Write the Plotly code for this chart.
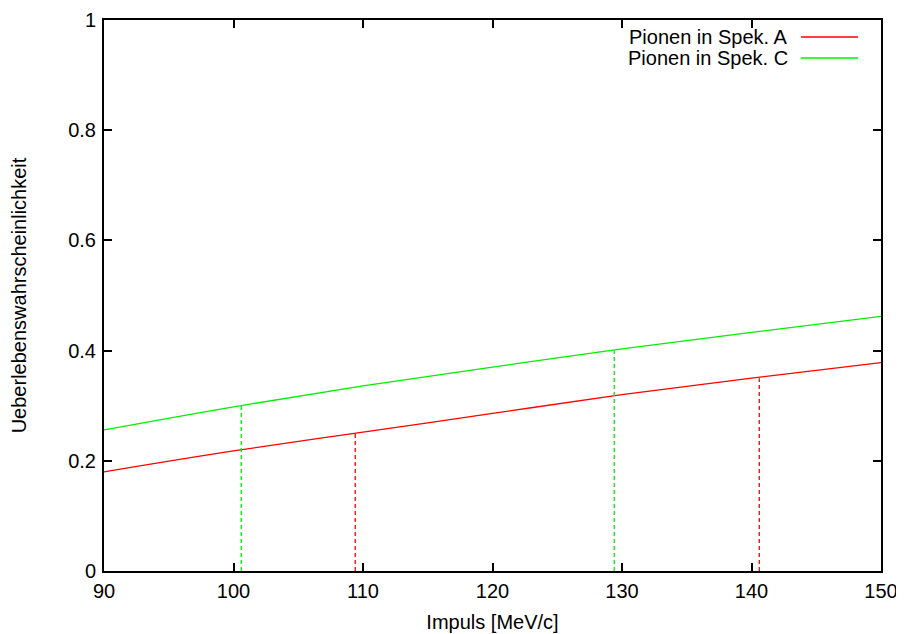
import plotly.graph_objects as go

impuls = [90, 100, 110, 120, 130, 140, 150]
spek_a = [0.180, 0.218, 0.252, 0.286, 0.320, 0.350, 0.378]
spek_c = [0.256, 0.298, 0.336, 0.370, 0.403, 0.433, 0.462]

mark_a_x = [109.4, 140.6]
mark_a_y = [0.25, 0.35]
mark_c_x = [100.6, 129.4]
mark_c_y = [0.30, 0.40]

RED = "#ff0000"
GREEN = "#00f000"
FONT = "Liberation Sans, Arial, sans-serif"
FS = 20

# figure is drawn inside the page body (8px margin)
W, H = 896, 626
L, R, T, B = 95.5, 23, 12, 63
PW, PH = W - L - R, H - T - B

fig = go.Figure()
fig.add_trace(go.Scatter(x=impuls, y=spek_a, mode="lines", name="Pionen in Spek. A",
                         line=dict(color=RED, width=1.3, shape="spline"), showlegend=False))
fig.add_trace(go.Scatter(x=impuls, y=spek_c, mode="lines", name="Pionen in Spek. C",
                         line=dict(color=GREEN, width=1.3, shape="spline"), showlegend=False))
for xs, ys, col in [(mark_a_x, mark_a_y, RED), (mark_c_x, mark_c_y, GREEN)]:
    for xv, yv in zip(xs, ys):
        fig.add_trace(go.Scatter(x=[xv, xv], y=[0, yv], mode="lines",
                                 line=dict(color=col, width=1.3, dash="4px,3px"),
                                 showlegend=False, hoverinfo="skip"))

# legend drawn manually (text left, line sample right)
legend_items = [("Pionen in Spek. A", RED), ("Pionen in Spek. C", GREEN)]
for i, (label, col) in enumerate(legend_items):
    yp = 1 - (17 + 21 * i) / PH
    fig.add_annotation(xref="paper", yref="paper", x=(790 - 8 - L) / PW, y=yp,
                       text=label, showarrow=False, xanchor="right", yanchor="middle",
                       font=dict(family=FONT, size=FS, color="black"))
    fig.add_shape(type="line", xref="paper", yref="paper",
                  x0=(801 - 8 - L) / PW, x1=(858 - 8 - L) / PW, y0=yp, y1=yp,
                  line=dict(color=col, width=1.3))

axis_common = dict(showgrid=False, zeroline=False, showline=True, linecolor="black",
                   linewidth=2, mirror="ticks", ticks="inside", ticklen=8, tickwidth=2,
                   automargin=False,
                   tickcolor="black", tickfont=dict(family=FONT, size=FS, color="black"))
fig.update_xaxes(range=[90, 150], tickvals=[90, 100, 110, 120, 130, 140, 150],
                 ticklabelstandoff=1,
                 title=dict(text="Impuls [MeV/c]", font=dict(family=FONT, size=FS, color="black"), standoff=14),
                 **axis_common)
fig.update_yaxes(range=[0, 1], tickvals=[0, 0.2, 0.4, 0.6, 0.8, 1],
                 ticktext=["0", "0.2", "0.4", "0.6", "0.8", "1"],
                 ticklabelstandoff=2,
                 title=dict(text="Ueberlebenswahrscheinlichkeit", font=dict(family=FONT, size=FS, color="black"), standoff=37),
                 **axis_common)
fig.update_layout(width=W, height=H, margin=dict(l=L, r=R, t=T, b=B),
                  plot_bgcolor="white", paper_bgcolor="white",
                  font=dict(family=FONT, size=FS, color="black"))
fig.write_html("out.html")
